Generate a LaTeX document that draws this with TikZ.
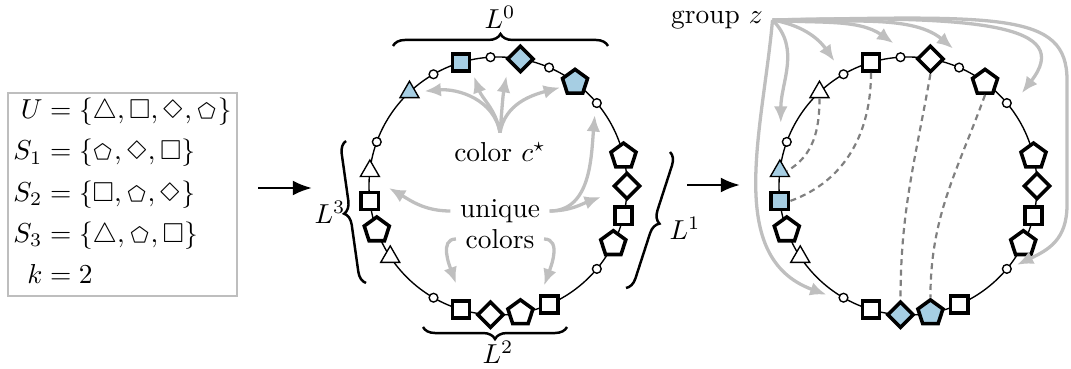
\documentclass[tikz,border=0pt]{standalone}
\usepackage{amsmath}
\usepackage[nointegrals]{wasysym}
\usetikzlibrary{arrows.meta,shapes.geometric,decorations.pathreplacing,calc}
\definecolor{lightblue}{RGB}{166,206,227}
\definecolor{softgray}{RGB}{191,191,191}
\definecolor{boxgray}{RGB}{190,190,190}
\definecolor{dashgray}{RGB}{128,128,128}
\DeclareSymbolFont{amsysa}{U}{msa}{m}{n}
\DeclareMathSymbol{\sqbox}{\mathord}{amsysa}{"03}
\newcommand{\pgon}{\text{\pentagon}}

\tikzset{
  chainshape/.style={draw=black,fill=white,inner sep=0pt},
  sq/.style={chainshape,rectangle,line width=1.3pt,minimum size=6.3pt},
  dia/.style={chainshape,diamond,line width=1.3pt,minimum size=9.8pt},
  pent/.style={chainshape,regular polygon,regular polygon sides=5,line width=1.3pt,minimum size=9.6pt},
  tri/.style={chainshape,regular polygon,regular polygon sides=3,line width=0.5pt,minimum size=8pt},
  dot/.style={chainshape,circle,line width=0.5pt,minimum size=3.2pt},
  chainline/.style={line width=0.5pt},
  grayarrow/.style={softgray,line width=1.2pt,-{Latex[length=6pt,width=5pt]}},
  bigarrow/.style={line width=1pt,-{Latex[length=7pt,width=5.5pt]}},
  dashlink/.style={dashgray,line width=0.8pt,dash pattern=on 2.2pt off 1.6pt},
  brc/.style={line width=0.9pt,decorate,decoration={brace,amplitude=4.4pt}},
}

\begin{document}
\begin{tikzpicture}[x=0.365pt,y=-0.365pt]
  \useasboundingbox (0,0) rectangle (1071,369);

  % instance
  \node[draw=boxgray,line width=0.9pt,inner sep=0pt,minimum width=83.6pt,minimum height=74.1pt] (setbox) at (122.5,194.5)
    {$\begin{aligned}
      U &= \{\triangle,\sqbox,\Diamond,\pgon\}\\
      S_1 &= \{\pgon,\Diamond,\sqbox\}\\
      S_2 &= \{\sqbox,\pgon,\Diamond\}\\
      S_3 &= \{\triangle,\pgon,\sqbox\}\\
      k &= 2
    \end{aligned}$};
  \coordinate (arr1s) at (258,188);
  \coordinate (arr1e) at (312,188);
  \draw[bigarrow] (arr1s) -- (arr1e);

  % middle ring
  \draw[chainline] (498,186) circle[radius=129];
  \foreach \i/\s/\f in {0/dot/white,1/dia/lightblue,2/dot/white,3/pent/lightblue,4/dot/white,
      6/pent/white,7/dia/white,8/sq/white,9/pent/white,10/dot/white,12/sq/white,13/pent/white,
      14/dia/white,15/sq/white,16/dot/white,18/tri/white,19/pent/white,20/sq/white,21/tri/white,
      22/dot/white,24/tri/lightblue,25/dot/white,26/sq/lightblue}
    \node[\s,fill=\f] (m\i) at ({498+129*cos(93.333-13.333*\i)},{186-129*sin(93.333-13.333*\i)}) {};

  % blocks
  \draw[brc] (393,46) -- (608,46);
  \node (L0) at (500,17) {$L^0$};
  \draw[brc] (670,152) -- (626,288);
  \node (L1) at (685,228) {$L^1$};
  \draw[brc] (567,327) -- (423,327);
  \node (L2) at (498,352) {$L^2$};
  \draw[brc] (366,283) -- (346,141);
  \node (L3) at (330,212) {$L^3$};

  \node (cstar) at (500,152) {color $c^\star$};
  \node (uniq) at (500,211) {unique};
  \node (cols) at (500,239) {colors};
  \draw[grayarrow] (cstar.north) to[out=100,in=5] ($(m24)+(15,-1)$);
  \draw[grayarrow] (cstar.north) to[out=100,in=-70] ($(m26)+(13,14)$);
  \draw[grayarrow] (cstar.north) to[out=85,in=-100] ($(m1)+(-14,17)$);
  \draw[grayarrow] (cstar.north) to[out=80,in=195] ($(m3)+(-15,5)$);
  \draw[grayarrow] (uniq.west) to[out=180,in=-30] ($(m20)+(19,-13)$);
  \draw[grayarrow] (uniq.east) to[out=0,in=-160] ($(m7)+(-26,11)$);
  \draw[grayarrow] (uniq.east) to[out=0,in=-95] ($(m4)+(-2,12)$);
  \draw[grayarrow] (cols.west) to[out=180,in=110] ($(m15)+(-5,-26)$);
  \draw[grayarrow] (cols.east) to[out=0,in=70] ($(m12)+(-5,-19)$);

  \coordinate (arr2s) at (687,185);
  \coordinate (arr2e) at (740,185);
  \draw[bigarrow] (arr2s) -- (arr2e);

  % right ring
  \draw[chainline] (908,186) circle[radius=129];
  \foreach \i/\s/\f in {0/dot/white,1/dia/white,2/dot/white,3/pent/white,4/dot/white,
      6/pent/white,7/dia/white,8/sq/white,9/pent/white,10/dot/white,12/sq/white,13/pent/lightblue,
      14/dia/lightblue,15/sq/white,16/dot/white,18/tri/white,19/pent/white,20/sq/lightblue,21/tri/lightblue,
      22/dot/white,24/tri/white,25/dot/white,26/sq/white}
    \node[\s,fill=\f] (r\i) at ({908+129*cos(93.333-13.333*\i)},{186-129*sin(93.333-13.333*\i)}) {};

  \draw[dashlink] (r24.south) to[out=-90,in=30] (r21.east);
  \draw[dashlink] (r26.south) to[out=-90,in=20] (r20.east);
  \draw[dashlink] (r1.south) to[out=-100,in=90] (r14.north);
  \draw[dashlink] (r3.south) to[out=-110,in=90] (r13.north);

  \node (grp) at (717,20) {group $z$};
  \draw[grayarrow] (grp.east) to[out=-45,in=90] ($(r22)+(-6,-19)$);
  \draw[grayarrow] (grp.east) to[out=-95,in=160] ($(r16)+(-17,-3)$);
  \draw[grayarrow] (grp.east) to[out=-10,in=125] ($(r25)+(-9,-13)$);
  \draw[grayarrow] (grp.east) to[out=-5,in=145,looseness=0.9] ($(r0)+(-7,-14)$);
  \draw[grayarrow] (grp.east) to[out=-5,in=140,looseness=0.8] ($(r2)+(-6,-19)$);
  \draw[grayarrow] (grp.east) .. controls (980,15) and (1075,25) .. ($(r4)+(15,-10)$);
  \draw[grayarrow] (grp.east) .. controls (1000,16) and (1067,12) .. (1067,80)
    -- (1067,205) .. controls (1067,240) and (1048,250) .. ($(r10)+(10,-4)$);
\end{tikzpicture}
\end{document}
